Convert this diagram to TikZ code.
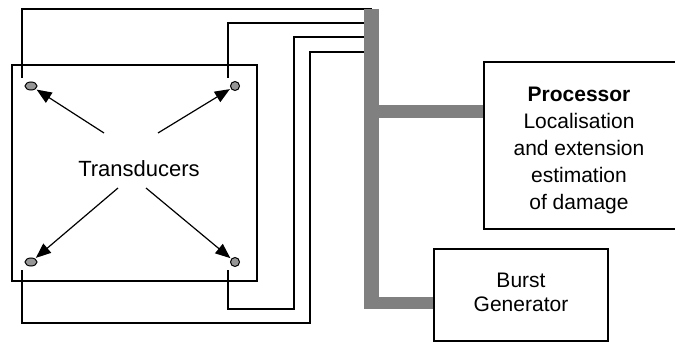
\documentclass[tikz,border=0pt]{standalone}
\usepackage{fontspec}
\setmainfont{Liberation Sans}
\usetikzlibrary{shapes.geometric, arrows.meta, positioning, calc}
\definecolor{busgray}{RGB}{128, 128, 128}
\definecolor{sensgray}{RGB}{150, 150, 150}

\begin{document}
\begin{tikzpicture}[x=1pt, y=-1pt,
  wire/.style={draw, line width=1.2pt},
  bus/.style={draw=busgray, line width=15pt},
  branch/.style={draw=busgray, line width=12.5pt},
  sensor/.style={draw, ellipse, fill=sensgray, line width=1pt, inner sep=0pt},
  blk/.style={draw, line width=1.2pt, inner sep=0pt},
  blktext/.style={align=center, inner sep=0pt, font=\fontsize{21}{27}\selectfont},
  dir/.style={-{Triangle[length=15pt, width=12pt]}, line width=1.2pt, shorten >=1pt},
]
\useasboundingbox (0,0) rectangle (675,342);

% plate with the transducers
\node[draw, line width=1.2pt, minimum width=245pt, minimum height=216pt, inner sep=0pt]
  (plate) at (134.5,173) {};
\node[sensor, minimum width=12pt, minimum height=8pt] (tl) at (31,86) {};
\node[sensor, minimum width=9pt, minimum height=9pt] (tr) at (235,86) {};
\node[sensor, minimum width=12pt, minimum height=8pt] (bl) at (31,262) {};
\node[sensor, minimum width=9pt, minimum height=9pt] (br) at (235,262) {};
\node[font=\fontsize{22}{26}\selectfont] (lbl) at (139,169) {Transducers};

\coordinate (a1) at (104,133);
\coordinate (a2) at (158,133);
\coordinate (a3) at (118,188);
\coordinate (a4) at (146,188);
\draw[dir] (a1) -- (tl);
\draw[dir] (a2) -- (tr);
\draw[dir] (a3) -- (bl);
\draw[dir] (a4) -- (br);

% blocks
\node[blk, minimum width=200pt, minimum height=167pt,
      label={[blktext, xshift=-5pt, yshift=-5pt]center:{\textbf{Processor}\\Localisation\\and extension\\estimation\\of damage}}]
  (proc) at (584,145.5) {};
\node[blk, minimum width=174pt, minimum height=92pt,
      label={[blktext, font=\fontsize{21}{24}\selectfont, yshift=3pt]center:{Burst\\Generator}}]
  (burst) at (521,295) {};

% wires to the bus
\coordinate (w1) at (22,78);
\coordinate (w2) at (228,78);
\coordinate (w3) at (228,270);
\coordinate (w4) at (22,270);
\coordinate (b1) at (371.5,9);
\coordinate (b2) at (371.5,23);
\coordinate (b3) at (371.5,37);
\coordinate (b4) at (371.5,52);
\draw[wire] (w1) |- (b1);
\draw[wire] (w2) |- (b2);
\draw[wire] (b3) -| (294,309) -| (w3);
\draw[wire] (b4) -| (310,323) -| (w4);

% bus
\coordinate (bj1) at (371.5,111.5);
\coordinate (bj2) at (371.5,303);
\coordinate (bbot) at (371.5,309);
\draw[bus] (b1) -- (bbot);
\draw[branch] (bj1) -- (proc.west |- bj1);
\draw[branch] (bj2) -- (burst.west |- bj2);
\end{tikzpicture}
\end{document}
